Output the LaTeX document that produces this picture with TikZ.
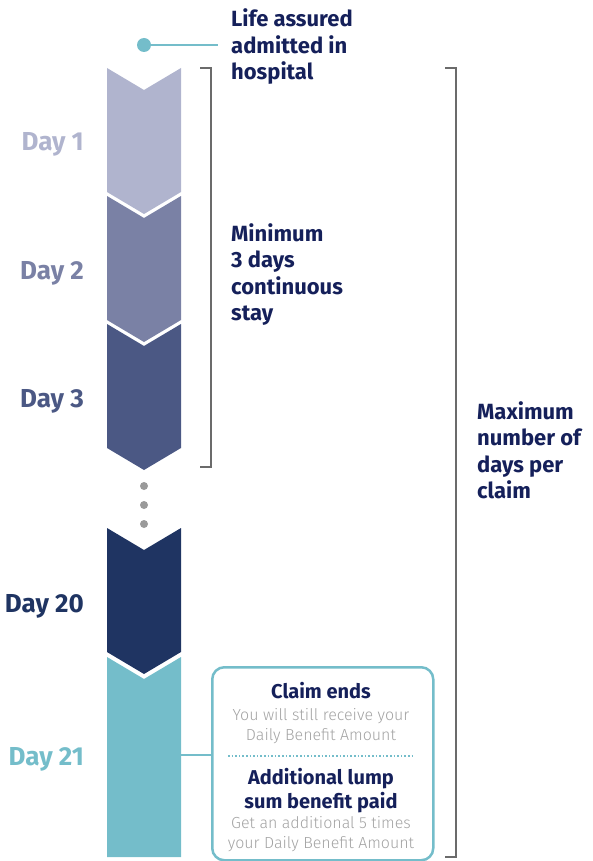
\documentclass[tikz,border=0pt]{standalone}
\usepackage{fontspec}
\setmainfont{Fira Sans}
\newfontfamily\lightfont{Fira Sans Light}
\usepackage{tikz}
\usetikzlibrary{positioning}
\definecolor{navy}{HTML}{15205A}
\definecolor{dayA}{HTML}{B0B4CE}
\definecolor{dayB}{HTML}{7A81A5}
\definecolor{dayC}{HTML}{4B5884}
\definecolor{dayD}{HTML}{1F3462}
\definecolor{sea}{HTML}{74BDCA}
\definecolor{brk}{HTML}{6B6B6B}
\definecolor{note}{HTML}{A3A3A3}
\definecolor{dotgray}{HTML}{9A9A9A}
\tikzset{
    daylabel/.style={
           anchor=base east,
           inner sep=0pt,
           font=\fontsize{26}{30}\selectfont\bfseries,
           },
    heading/.style={
           anchor=north west,
           align=left,
           inner sep=0pt,
           text=navy,
           font=\fontsize{22}{26.5}\selectfont\bfseries,
           },
    boxhead/.style={
           anchor=north,
           align=center,
           inner sep=0pt,
           text=navy,
           font=\fontsize{20}{24}\selectfont\bfseries,
           },
    boxnote/.style={
           anchor=north,
           align=center,
           inner sep=0pt,
           text=note,
           font=\fontsize{16}{20}\selectfont\lightfont,
           },
    bracket/.style={draw=brk, line width=2.5pt},
}

\begin{document}
\begin{tikzpicture}[x=1pt,y=-1pt]
  \useasboundingbox (0,0) rectangle (593,861);
  \foreach \y/\col in {68/dayA,196/dayB,324/dayC,528/dayD}
    \fill[\col] (107,\y) -- (144,\y+22) -- (181,\y) -- (181,\y+124) -- (144,\y+146) -- (107,\y+124) -- cycle;
  \fill[sea] (107,657) -- (144,679) -- (181,657) -- (181,857) -- (107,857) -- cycle;
  \foreach \y in {486,505,524} \fill[dotgray] (144,\y) circle (4);

  \node[daylabel, text=dayA] (day1)  at (84,151) {Day 1};
  \node[daylabel, text=dayB] (day2)  at (84,279) {Day 2};
  \node[daylabel, text=dayC] (day3)  at (84,407) {Day 3};
  \node[daylabel, text=dayD] (day20) at (84,612) {Day 20};
  \node[daylabel, text=sea]  (day21) at (84,765) {Day 21};

  \node[circle, fill=sea, inner sep=0pt, minimum size=14pt] (admit) at (144,45) {};
  \coordinate (admitEnd) at (218,45);
  \draw[sea, line width=2pt] (admit) -- (admitEnd);
  \node[heading] (lifeTxt) at (231,8.5) {Life assured\\admitted in\\hospital};
  \node[heading] (minTxt)  at (231,223) {Minimum\\3 days\\continuous\\stay};
  \node[heading] (maxTxt)  at (477,401) {Maximum\\number of\\days per\\claim};

  \draw[bracket] (200,68) -- (211,68) -- (211,467) -- (200,467);
  \draw[bracket] (445,68) -- (456,68) -- (456,857) -- (445,857);

  \node[draw=sea, line width=2.5pt, rounded corners=12pt, minimum width=221pt, minimum height=193pt, anchor=north west] (claimBox) at (211,666) {};
  \coordinate (lastDay) at (181,755);
  \draw[sea, line width=2pt] (lastDay) -- (lastDay -| claimBox.west);
  \node[boxhead] (ends)  at (321,682) {Claim ends};
  \node[boxnote] (still) at (321,708) {You will still receive your\\Daily Benefit Amount};
  \draw[sea, line width=1.6pt, dotted] (228,756) -- (414,756);
  \node[boxhead] (lump)  at (321,768) {Additional lump\\sum benefit paid};
  \node[boxnote] (extra) at (321,816) {Get an additional 5 times\\your Daily Benefit Amount};
\end{tikzpicture}
\end{document}
